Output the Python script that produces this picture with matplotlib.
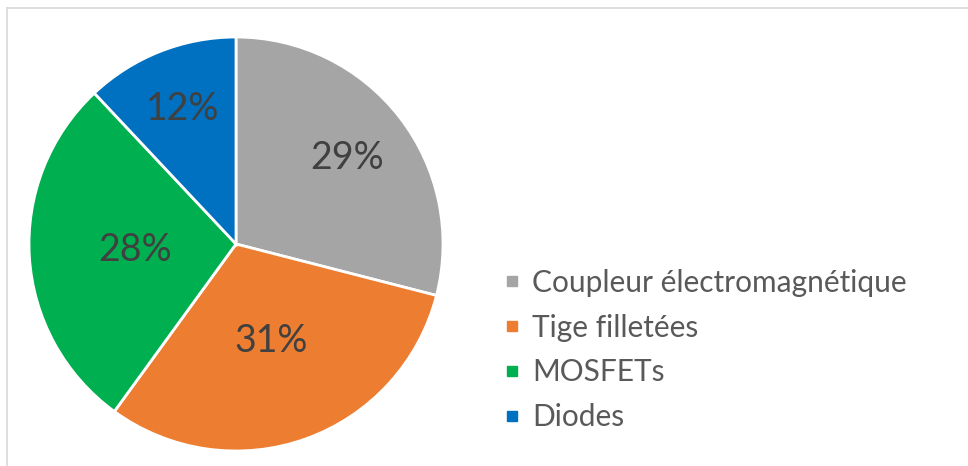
import matplotlib
matplotlib.use("Agg")
import matplotlib.pyplot as plt
from matplotlib.lines import Line2D
import numpy as np

plt.rcParams['font.family'] = ['Lato', 'DejaVu Sans']

categories = ["Coupleur électromagnétique", "Tige filletées", "MOSFETs", "Diodes"]
shares = [29, 31, 28, 12]
colors = ["#A5A5A5", "#ED7D31", "#00B050", "#0070C0"]
# radial placement of each percentage label (fraction of radius)
label_radius = [0.68, 0.50, 0.49, 0.70]

W, H = 968, 466
fig = plt.figure(figsize=(W / 100, H / 100), dpi=100)

# chart-area frame (light grey, open to the right and bottom)
frame_kw = dict(color="#D9D9D9", linewidth=1.2, transform=fig.transFigure)
fig.add_artist(Line2D([7 / W, 1.0], [1 - 8 / H, 1 - 8 / H], **frame_kw))
fig.add_artist(Line2D([7 / W, 7 / W], [0.0, 1 - 8 / H], **frame_kw))

cx, cy, r = 236, 244, 207
ax = fig.add_axes([(cx - r) / W, (H - cy - r) / H, 2 * r / W, 2 * r / H])

wedges, _ = ax.pie(
    shares,
    colors=colors,
    startangle=90,
    counterclock=False,
    radius=1.0,
    wedgeprops=dict(edgecolor="white", linewidth=2.0),
)
ax.set_xlim(-1, 1)
ax.set_ylim(-1, 1)
ax.set_aspect("equal")
ax.axis("off")

for w, val, d in zip(wedges, shares, label_radius):
    mid = np.deg2rad((w.theta1 + w.theta2) / 2)
    ax.text(d * np.cos(mid), d * np.sin(mid), f"{val}%",
            ha="center", va="center", fontsize=27, color="#404040")

handles = [Line2D([], [], marker="s", linestyle="none", markersize=7.5,
                  markerfacecolor=c, markeredgecolor=c) for c in colors]
fig.legend(handles, categories, loc="center left",
           bbox_to_anchor=(506 / W, 1 - 350 / H),
           frameon=False, fontsize=21.5, labelcolor="#595959",
           handlelength=0.42, handletextpad=0.45, labelspacing=0.56,
           borderpad=0, borderaxespad=0)

fig.savefig("out.png", dpi=100, facecolor="white")
